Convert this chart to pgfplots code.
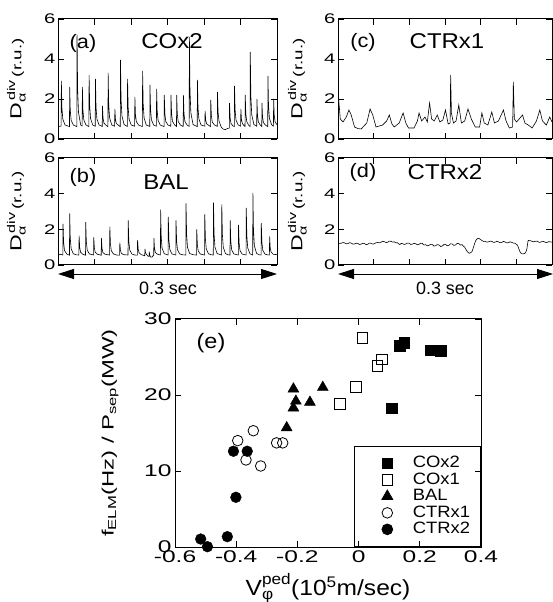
\documentclass[border=0pt]{standalone}
\usepackage{fontspec}
\setmainfont{Liberation Sans}
\newfontfamily\wa[FakeStretch=1.45]{Liberation Sans}
\newfontfamily\wb[FakeStretch=1.12]{Liberation Sans}
\usepackage{amsmath}
\usepackage{pgfplots}
\pgfplotsset{compat=1.18}
\usetikzlibrary{arrows.meta}

\pgfplotsset{
  base/.style={scale only axis, axis line style={line width=1pt}, every tick/.style={black,line width=0.9pt},
    major tick length=6bp, tick align=inside, /pgf/number format/assume math mode=true},
  trace/.style={base, xmin=0, xmax=0.3, ymin=0, ymax=6,
    xtick={0,0.05,0.1,0.15,0.2,0.25,0.3}, xticklabels={}, ytick={0,2,4,6},
    yticklabel style={font=\wa\fontsize{14}{14}\selectfont, xshift=1bp},
    ylabel={D$_{\text{α}}^{\,\text{div}}$\,{\fontsize{13}{13}\selectfont(r.u.)}},
    ylabel style={at={(axis description cs:-0.19,0.5)}, anchor=center, font=\wa\fontsize{16}{16}\selectfont}},
  tr/.style={black, line width=0.6pt, mark=none},
  sc/.style={only marks, legend image code/.code={\path[draw=none,fill=none] (0bp,0bp) (44bp,0bp); \draw[mark repeat=2,mark phase=2,##1] plot coordinates {(0bp,0bp)(23bp,0bp)(46bp,0bp)};}},
}

\begin{document}
\begin{tikzpicture}
\path[use as bounding box] (0,0) rectangle (553bp,602bp);

% (a)
\begin{axis}[trace, at={(58bp,463bp)}, anchor=south west, width=219bp, height=120bp]
\addplot[tr] coordinates {
(0,0.62)(0.0020,0.63)(0.0043,0.65)(0.0046,2.9)(0.0054,1.55)(0.0066,0.99)(0.0096,0.70)
(0.0157,0.62)(0.0160,2.6)(0.0168,1.43)(0.0180,0.94)(0.0210,0.70)
(0.0258,0.62)(0.0261,5.2)(0.0269,2.47)(0.0281,1.33)(0.0311,0.70)
(0.0331,0.65)(0.0334,2.6)(0.0342,1.43)(0.0354,0.94)(0.0384,0.70)
(0.0423,0.62)(0.0426,3.2)(0.0434,1.67)(0.0446,1.03)(0.0476,0.70)
(0.0510,0.64)(0.0513,3.0)(0.0521,1.59)(0.0533,1.00)(0.0563,0.70)
(0.0606,0.63)(0.0609,1.65)(0.0617,1.05)(0.0629,0.80)(0.0659,0.68)
(0.0684,0.62)(0.0687,3.3)(0.0695,1.71)(0.0707,1.05)(0.0737,0.70)
(0.0776,0.64)(0.0779,1.5)(0.0787,0.99)(0.0799,0.78)(0.0829,0.68)
(0.0853,0.62)(0.0856,3.95)(0.0864,1.97)(0.0876,1.15)(0.0906,0.72)
(0.0950,0.63)(0.0953,3.0)(0.0961,1.59)(0.0973,1.00)(0.1003,0.70)
(0.1050,0.64)(0.1053,2.1)(0.1061,1.23)(0.1073,0.87)(0.1103,0.70)
(0.1156,0.62)(0.1159,3.4)(0.1167,1.75)(0.1179,1.06)(0.1209,0.70)
(0.1257,0.63)(0.1260,2.7)(0.1268,1.47)(0.1280,0.96)(0.1310,0.70)
(0.1348,0.64)(0.1351,2.5)(0.1359,1.39)(0.1371,0.93)(0.1401,0.70)
(0.1453,0.62)(0.1456,2.2)(0.1464,1.27)(0.1476,0.88)(0.1506,0.70)
(0.1545,0.64)(0.1548,2.2)(0.1556,1.27)(0.1568,0.88)(0.1598,0.70)
(0.1623,0.63)(0.1626,2.2)(0.1634,1.27)(0.1646,0.88)(0.1676,0.70)
(0.1715,0.62)(0.1718,2.2)(0.1726,1.27)(0.1738,0.88)(0.1768,0.70)
(0.1797,0.63)(0.1800,5.1)(0.1808,2.43)(0.1820,1.32)(0.1850,0.72)
(0.1907,0.62)(0.1910,2.95)(0.1918,1.57)(0.1930,1.00)(0.1960,0.70)
(0.2012,0.64)(0.2015,1.4)(0.2023,0.95)(0.2035,0.76)(0.2065,0.68)
(0.2090,0.62)(0.2093,1.95)(0.2101,1.17)(0.2113,0.85)(0.2143,0.70)
(0.2182,0.63)(0.2185,2.35)(0.2193,1.33)(0.2205,0.91)(0.2235,0.60)
(0.2260,0.50)(0.2290,0.47)(0.2320,0.52)
(0.2347,0.55)(0.2350,1.8)(0.2358,1.05)(0.2370,0.78)(0.2395,0.66)
(0.2415,0.62)(0.2418,2.65)(0.2426,1.45)(0.2438,0.95)(0.2468,0.70)
(0.2502,0.64)(0.2505,1.5)(0.2513,0.99)(0.2525,0.78)(0.2545,0.68)
(0.2562,0.63)(0.2565,2.2)(0.2573,1.27)(0.2585,0.88)(0.2610,0.70)
(0.2631,0.62)(0.2634,4.35)(0.2642,2.13)(0.2654,1.21)(0.2684,0.72)
(0.2722,0.64)(0.2725,2.0)(0.2733,1.19)(0.2745,0.85)(0.2770,0.70)
(0.2791,0.63)(0.2794,1.8)(0.2802,1.11)(0.2814,0.82)(0.2840,0.70)
(0.2873,0.62)(0.2876,3.15)(0.2884,1.65)(0.2896,1.03)(0.2926,0.72)
(0.2951,0.64)(0.2954,2.0)(0.2962,1.19)(0.2974,0.85)(0.3000,0.72)
};
\end{axis}

% (b)
\begin{axis}[trace, at={(58bp,337bp)}, anchor=south west, width=219bp, height=107bp]
\addplot[tr] coordinates {
(0,0.58)(0.0030,0.60)(0.0066,0.56)(0.0069,2.3)(0.0077,1.26)(0.0089,0.82)(0.0119,0.62)
(0.0157,0.55)(0.0160,2.9)(0.0168,1.50)(0.0180,0.91)(0.0210,0.63)(0.0250,0.57)
(0.0286,0.56)(0.0289,1.65)(0.0297,1.00)(0.0309,0.72)(0.0339,0.60)
(0.0377,0.55)(0.0380,2.4)(0.0388,1.30)(0.0400,0.84)(0.0430,0.62)
(0.0487,0.56)(0.0490,1.55)(0.0498,0.96)(0.0510,0.71)(0.0540,0.60)
(0.0592,0.55)(0.0595,1.5)(0.0603,0.94)(0.0615,0.70)(0.0645,0.60)
(0.0707,0.56)(0.0710,2.15)(0.0718,1.20)(0.0730,0.80)(0.0760,0.62)(0.0800,0.56)
(0.0844,0.55)(0.0847,1.25)(0.0855,0.84)(0.0867,0.66)(0.0897,0.58)
(0.0959,0.56)(0.0962,2.5)(0.0970,1.34)(0.0982,0.85)(0.1012,0.62)(0.1050,0.56)
(0.1087,0.55)(0.1090,1.4)(0.1098,0.90)(0.1110,0.69)(0.1140,0.58)
(0.1188,0.52)(0.1191,0.9)(0.1199,0.70)(0.1211,0.60)(0.1230,0.50)
(0.1247,0.48)(0.1250,0.75)(0.1256,0.55)(0.1270,0.44)(0.1290,0.45)(0.1300,0.52)
(0.1311,0.55)(0.1314,1.5)(0.1322,0.94)(0.1334,0.70)(0.1364,0.60)
(0.1403,0.56)(0.1406,3.1)(0.1414,1.58)(0.1426,0.94)(0.1456,0.63)
(0.1508,0.56)(0.1511,2.7)(0.1519,1.42)(0.1531,0.88)(0.1561,0.62)
(0.1614,0.56)(0.1617,2.5)(0.1625,1.34)(0.1637,0.85)(0.1667,0.62)(0.1710,0.57)
(0.1751,0.56)(0.1754,3.45)(0.1762,1.72)(0.1774,0.99)(0.1804,0.64)(0.1860,0.57)
(0.1898,0.56)(0.1901,2.0)(0.1909,1.14)(0.1921,0.78)(0.1951,0.61)
(0.2008,0.56)(0.2011,2.85)(0.2019,1.48)(0.2031,0.90)(0.2061,0.63)(0.2100,0.57)
(0.2127,0.56)(0.2130,3.5)(0.2138,1.74)(0.2150,1.00)(0.2180,0.64)
(0.2241,0.56)(0.2244,3.4)(0.2252,1.70)(0.2264,0.99)(0.2294,0.64)(0.2330,0.57)
(0.2356,0.56)(0.2359,2.5)(0.2367,1.34)(0.2379,0.85)(0.2409,0.62)
(0.2470,0.56)(0.2473,2.25)(0.2481,1.24)(0.2493,0.81)(0.2523,0.61)
(0.2576,0.56)(0.2579,3.2)(0.2587,1.62)(0.2599,0.96)(0.2629,0.63)
(0.2667,0.56)(0.2670,4.05)(0.2678,1.96)(0.2690,1.08)(0.2720,0.65)(0.2760,0.57)
(0.2782,0.56)(0.2785,2.35)(0.2793,1.28)(0.2805,0.83)(0.2835,0.61)(0.2870,0.57)
(0.2896,0.56)(0.2899,1.6)(0.2907,0.98)(0.2919,0.72)(0.2950,0.60)(0.3000,0.58)
};
\end{axis}

% (c)
\begin{axis}[trace, at={(338bp,463bp)}, anchor=south west, width=214bp, height=120bp]
\addplot[tr] coordinates {
(0,2.4)(0.0032,1.0)(0.0070,0.85)(0.0116,1.1)(0.0153,1.45)(0.0185,1.2)(0.0232,0.6)
(0.0280,0.52)(0.0325,0.5)(0.0403,0.8)(0.0450,1.5)(0.0487,1.2)(0.0533,0.6)(0.0580,0.65)
(0.0626,0.7)(0.0682,0.9)(0.0719,1.2)(0.0756,0.75)(0.0788,0.6)(0.0858,0.8)(0.0913,1.3)
(0.0951,0.8)(0.0988,0.55)(0.1066,0.55)(0.1113,0.9)(0.1136,1.3)(0.1173,0.9)(0.1220,1.1)
(0.1252,0.85)(0.1284,1.8)(0.1312,1.0)(0.1349,0.9)(0.1391,1.2)(0.1428,0.85)(0.1470,0.95)
(0.1507,1.45)(0.1544,0.75)(0.1572,0.8)(0.1579,3.2)(0.1590,1.3)(0.1618,0.8)(0.1655,0.9)
(0.1693,1.7)(0.1730,0.8)(0.1776,0.9)(0.1822,1.5)(0.1869,1.0)(0.1924,0.6)(0.1985,0.6)
(0.2017,1.3)(0.2050,0.8)(0.2101,0.7)(0.2156,1.35)(0.2193,0.8)(0.2249,0.9)(0.2319,1.45)
(0.2356,0.9)(0.2402,0.55)(0.2448,0.6)(0.2458,2.85)(0.2472,1.0)(0.2504,0.85)(0.2587,1.2)
(0.2620,0.8)(0.2666,0.7)(0.2722,0.55)(0.2782,0.9)(0.2829,1.45)(0.2866,0.9)(0.2921,0.7)
(0.2968,1.1)(0.3000,0.85)
};
\end{axis}

% (d)
\begin{axis}[trace, at={(338bp,337bp)}, anchor=south west, width=214bp, height=107bp]
\addplot[tr] coordinates {
(0,1.25)(0.0023,1.21)(0.0046,1.22)(0.0070,1.26)(0.0093,1.24)(0.0116,1.19)(0.0139,1.20)
(0.0162,1.25)(0.0185,1.23)(0.0208,1.17)(0.0232,1.18)(0.0255,1.22)(0.0278,1.21)(0.0301,1.15)
(0.0325,1.17)(0.0348,1.22)(0.0371,1.20)(0.0394,1.14)(0.0417,1.16)(0.0440,1.23)(0.0464,1.22)
(0.0487,1.17)(0.0510,1.19)(0.0533,1.25)(0.0556,1.26)(0.0580,1.24)(0.0603,1.28)(0.0626,1.33)
(0.0649,1.31)(0.0672,1.26)(0.0696,1.27)(0.0719,1.34)(0.0742,1.33)(0.0765,1.28)(0.0788,1.30)
(0.0811,1.24)(0.0835,1.25)(0.0851,1.18)(0.0867,1.15)(0.0886,1.21)(0.0904,1.20)(0.0928,1.15)
(0.0951,1.18)(0.0974,1.23)(0.0997,1.22)(0.1020,1.15)(0.1043,1.17)(0.1066,1.21)(0.1090,1.19)
(0.1113,1.13)(0.1136,1.16)(0.1159,1.22)(0.1182,1.21)(0.1205,1.12)(0.1229,1.14)(0.1252,1.08)
(0.1275,1.10)(0.1298,1.16)(0.1322,1.15)(0.1345,1.06)(0.1368,1.08)(0.1391,1.14)(0.1414,1.13)
(0.1438,1.04)(0.1461,1.06)(0.1484,1.15)(0.1507,1.16)(0.1530,1.08)(0.1553,1.10)(0.1577,1.19)
(0.1600,1.18)(0.1623,1.10)(0.1646,1.12)(0.1669,1.21)(0.1693,1.20)(0.1716,1.12)(0.1739,1.14)
(0.1760,1.05)(0.1776,1.00)(0.1792,0.88)(0.1808,0.78)(0.1824,0.70)(0.1840,0.66)(0.1860,0.69)
(0.1878,0.75)(0.1896,0.95)(0.1915,1.20)(0.1932,1.38)(0.1947,1.45)(0.1963,1.50)(0.1980,1.48)
(0.2000,1.42)(0.2017,1.38)(0.2040,1.32)(0.2063,1.33)(0.2086,1.28)(0.2110,1.30)(0.2133,1.34)
(0.2156,1.32)(0.2179,1.27)(0.2203,1.28)(0.2226,1.33)(0.2249,1.30)(0.2272,1.25)(0.2296,1.27)
(0.2319,1.32)(0.2342,1.29)(0.2365,1.24)(0.2388,1.25)(0.2411,1.30)(0.2434,1.27)(0.2458,1.23)
(0.2481,1.22)(0.2500,1.16)(0.2518,1.10)(0.2534,0.92)(0.2550,0.75)(0.2566,0.66)(0.2583,0.62)
(0.2602,0.63)(0.2620,0.65)(0.2636,0.75)(0.2648,0.90)(0.2658,1.20)(0.2666,1.38)(0.2684,1.36)
(0.2703,1.36)(0.2726,1.31)(0.2750,1.30)(0.2773,1.34)(0.2796,1.33)(0.2819,1.27)(0.2842,1.28)
(0.2866,1.33)(0.2889,1.31)(0.2912,1.26)(0.2935,1.27)(0.2952,1.31)(0.2968,1.30)(0.3000,1.28)
};
\end{axis}

% panel texts
\node[font=\wb\fontsize{19.5}{19.5}\selectfont] at (83bp,559bp) {(a)};
\node[font=\wb\fontsize{21.5}{21.5}\selectfont] at (172bp,561bp) {COx2};
\node[font=\wb\fontsize{19.5}{19.5}\selectfont] at (83bp,425bp) {(b)};
\node[font=\wb\fontsize{21.5}{21.5}\selectfont] at (166bp,420bp) {BAL};
\node[font=\wb\fontsize{19.5}{19.5}\selectfont] at (363bp,560bp) {(c)};
\node[font=\wb\fontsize{21.5}{21.5}\selectfont] at (447bp,561bp) {CTRx1};
\node[font=\wb\fontsize{19.5}{19.5}\selectfont] at (363bp,430bp) {(d)};
\node[font=\wb\fontsize{21.5}{21.5}\selectfont] at (445bp,430bp) {CTRx2};

% arrows
\draw[line width=0.9pt, {Triangle[length=16bp,width=10bp]}-{Triangle[length=16bp,width=10bp]}] (58bp,328bp) -- (277bp,328bp);
\draw[line width=0.9pt, {Triangle[length=16bp,width=10bp]}-{Triangle[length=16bp,width=10bp]}] (338bp,328bp) -- (553bp,328bp);
\node[font=\fontsize{18}{18}\selectfont] at (168bp,314bp) {0.3 sec};
\node[font=\fontsize{18}{18}\selectfont] at (445bp,314bp) {0.3 sec};

% (e)
\begin{axis}[base, at={(175bp,55bp)}, anchor=south west, width=306bp, height=228bp,
  xmin=-0.6, xmax=0.4, ymin=0, ymax=30,
  xtick={-0.6,-0.4,-0.2,0,0.2,0.4}, ytick={0,10,20,30},
  xticklabels={-0.6,-0.4,-0.2,0,0.2,0.4},
  ticklabel style={font=\wa\fontsize{17}{17}\selectfont},
  xlabel={V$_{\text{φ}}^{\text{ped}}$(10$^{\text{5}}$m/sec)},
  xlabel style={at={(axis description cs:0.5,0)}, anchor=base, yshift=-48bp, font=\wb\fontsize{22}{22}\selectfont},
  ylabel={f$_{\text{ELM}}$(Hz) / P$_{\text{sep}}$(MW)},
  ylabel style={at={(axis description cs:-0.212,0.5)}, anchor=center, font=\wa\fontsize{16.5}{16.5}\selectfont},
  legend cell align=left,
  legend style={at={(rel axis cs:1,0)}, anchor=south east, fill=none, draw=black, line width=0.8pt,
    font=\wb\fontsize{16.5}{16.5}\selectfont, inner xsep=10bp, inner ysep=9bp,
    nodes={inner sep=0.5bp, text height=12bp, text depth=3.5bp},
    /tikz/every odd column/.append style={column sep=4bp}},
  clip=false]
\addplot[sc, mark=square*, mark size=5.3bp, mark options={fill=black, draw=black}] coordinates {
(0.135,26.45)(0.149,26.9)(0.236,25.9)(0.269,25.8)(0.109,18.25)};
\addplot[sc, mark=square, mark size=5.3bp, mark options={fill=white, draw=black, line width=0.8pt}] coordinates {
(0.012,27.5)(0.076,24.7)(0.061,23.8)(-0.009,21.1)(-0.061,18.8)};
\addplot[sc, mark=triangle*, mark size=6.3bp, mark options={fill=black, draw=black}] coordinates {
(-0.213,20.8)(-0.117,21.0)(-0.205,19.2)(-0.159,19.05)(-0.213,18.3)(-0.235,15.7)};
\addplot[sc, mark=o, mark size=5.3bp, mark options={fill=white, draw=black, line width=0.8pt}] coordinates {
(-0.344,15.3)(-0.395,14.0)(-0.268,13.7)(-0.248,13.7)(-0.368,11.45)(-0.32,10.66)};
\addplot[sc, mark=*, mark size=5.4bp, mark options={fill=black, draw=black}] coordinates {
(-0.409,12.6)(-0.364,12.6)(-0.401,6.54)(-0.516,1.05)(-0.494,0.04)(-0.429,1.36)};
\legend{COx2,COx1,BAL,CTRx1,CTRx2}
\end{axis}
\node[font=\wb\fontsize{21}{21}\selectfont] at (211bp,259bp) {(e)};
\end{tikzpicture}
\end{document}
